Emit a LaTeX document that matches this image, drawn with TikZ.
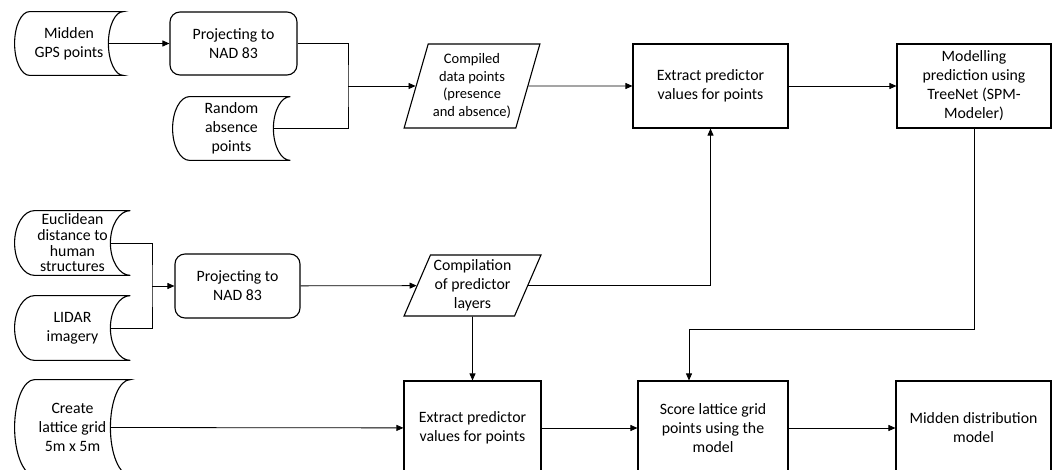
\documentclass[tikz,border=0pt]{standalone}
\usepackage{fontspec}
\setmainfont{Carlito}
\usetikzlibrary{positioning, calc}
\usetikzlibrary{shapes.geometric, arrows.meta}

\begin{document}
\begin{tikzpicture}[x=1pt, y=1pt, font=\fontsize{15.8}{19}\selectfont, align=center, >={Triangle[length=7pt, width=6pt]}, line width=0.8pt,
        stored/.style={minimum height=63pt, inner sep=0pt},
        proc/.style={draw, line width=1.1pt, rounded corners=10pt, minimum width=127pt, minimum height=63pt, inner sep=0pt},
        task/.style={draw, line width=1.1pt, minimum width=155pt, minimum height=84pt, inner sep=0pt},
        datain/.style={draw, line width=1.1pt, trapezium, trapezium stretches=true, inner sep=0pt}]
        \useasboundingbox (0,0) rectangle (1056,-470);

        % Top row
        \node[stored, minimum width=108pt] (gps) at (69,-43.5) {Midden\\GPS points};
        \node[proc] (proj1) at (233.5,-43.5) {Projecting to\\NAD 83};
        \node[stored, minimum width=117pt] (rand) at (231.5,-128.5) {Random\\absence\\points};
        \node[datain, trapezium left angle=71.6, trapezium right angle=108.4, minimum width=136pt, minimum height=84pt, font=\fontsize{14.5}{17.5}\selectfont] (cmp) at (472,-86) {Compiled\\data points\\(presence\\and absence)};
        \node[task] (ext1) at (710.5,-86) {Extract predictor\\values for points};
        \node[task, minimum width=154pt] (mod) at (974,-86) {Modelling\\prediction using\\TreeNet (SPM-\\Modeler)};

        % Middle row
        \node[stored, minimum width=115pt, minimum height=64pt, font=\fontsize{15.8}{15.7}\selectfont] (eucl) at (72.5,-243) {Euclidean\\distance to\\human\\structures};
        \node[stored, minimum width=115pt, minimum height=64pt] (lidar) at (72.5,-328) {LIDAR\\imagery};
        \node[proc, minimum width=125pt, minimum height=64pt] (proj2) at (237.5,-286) {Projecting to\\NAD 83};
        \node[datain, trapezium left angle=64.6, trapezium right angle=115.4, minimum width=137pt, minimum height=61pt] (cpl) at (472.5,-285.5) {Compilation\\of predictor\\layers};

        % Bottom row
        \node[stored, minimum width=115pt, minimum height=95pt] (grid) at (72.5,-427.5) {Create\\lattice grid\\5m x 5m};
        \node[task, minimum width=137pt, minimum height=94pt] (ext2) at (472.5,-428) {Extract predictor\\values for points};
        \node[task, minimum width=150pt, minimum height=94pt] (score) at (713,-428) {Score lattice grid\\points using the\\model};
        \node[task, minimum height=94pt] (dist) at (973.5,-428) {Midden distribution\\model};

        % Stored data outlines
        \foreach \s/\dd in {gps/15, rand/17, eucl/20, lidar/20, grid/20} {
            \draw[line width=1.1pt] let \p1=(\s.north), \p2=(\s.south), \n1={(\y1-\y2)/2} in
                ($(\s.north west)+(\dd,0)$) -- (\s.north east)
                arc[start angle=90, end angle=270, x radius=\dd pt, y radius=\n1]
                -- ($(\s.south west)+(\dd,0)$)
                arc[start angle=270, end angle=90, x radius=\dd pt, y radius=\n1] -- cycle;
        }

        % Edges
        \coordinate (j1) at (348,-86);
        \coordinate (j2) at (152,-286);
        \coordinate (kink) at (689,-329);
        \draw[->] ($(gps.east)+(-15,0)$) -- (proj1.west);
        \draw (proj1.east) -| (j1) |- ($(rand.east)+(-17,0)$);
        \draw[->] (j1) -- (cmp);
        \draw[->] (cmp) -- (ext1);
        \draw[->] (ext1) -- (mod);
        \draw ($(eucl.east)+(-20,0)$) -| (j2) |- ($(lidar.east)+(-20,0)$);
        \draw[->] (j2) -- (proj2);
        \draw[->] (proj2) -- (cpl);
        \draw[->] (cpl) -| (ext1);
        \draw[->] (cpl) -- (ext2);
        \draw[->] (mod) |- (kink) -- (kink |- score.north);
        \draw[->] ($(grid.east)+(-20,0)$) -- (ext2);
        \draw[->] (ext2) -- (score);
        \draw[->] (score) -- (dist);
    \end{tikzpicture}
\end{document}
